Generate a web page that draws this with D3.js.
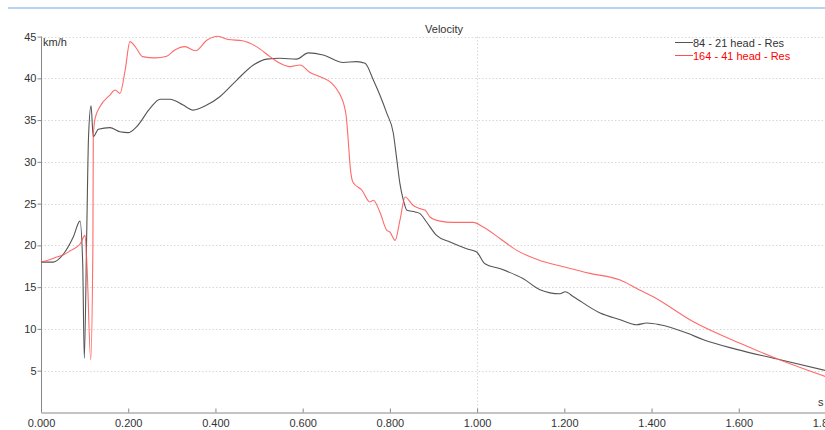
<!DOCTYPE html>
<html>
<head>
<meta charset="utf-8">
<script src="https://cdn.jsdelivr.net/npm/d3@7"></script>
<style>
  html, body { margin: 0; padding: 0; background: #fff; }
  svg { display: block; font-family: "Liberation Sans", Arial, sans-serif; }
</style>
</head>
<body>
<svg id="chart" width="825" height="430"></svg>
<script>
// Velocity traces (time in s, speed in km/h)
const seriesNames = ["84 - 21 head - Res", "164 - 41 head - Res"];
const seriesColors = ["#555555", "#ff5050"];
const legendColors = ["#333333", "#ff0000"];

const blackTime = [0.000, 0.028, 0.052, 0.074, 0.0894, 0.0956, 0.0993, 0.105, 0.109, 0.1147, 0.1199, 0.1314, 0.158, 0.181, 0.200, 0.219, 0.250, 0.273, 0.296, 0.326, 0.349, 0.380, 0.410, 0.449, 0.487, 0.518, 0.548, 0.586, 0.613, 0.647, 0.693, 0.724, 0.743, 0.762, 0.777, 0.793, 0.808, 0.816, 0.823, 0.831, 0.839, 0.858, 0.869, 0.884, 0.907, 0.938, 0.976, 0.999, 1.018, 1.053, 1.106, 1.144, 1.190, 1.202, 1.221, 1.282, 1.328, 1.366, 1.389, 1.419, 1.481, 1.519, 1.595, 1.695, 1.800];
const blackSpeed = [18.0, 18.0, 19.0, 21.0, 22.9, 17.9, 6.5, 22.0, 33.0, 36.7, 33.0, 33.9, 34.1, 33.6, 33.5, 34.2, 36.4, 37.5, 37.5, 36.8, 36.2, 36.8, 37.8, 39.8, 41.6, 42.3, 42.4, 42.3, 43.05, 42.8, 41.9, 42.0, 41.8, 39.8, 38.0, 35.8, 33.4, 30.2, 27.4, 25.4, 24.2, 24.0, 23.8, 22.8, 21.2, 20.4, 19.6, 19.2, 17.8, 17.2, 16.0, 14.7, 14.2, 14.45, 13.85, 11.9, 11.1, 10.5, 10.7, 10.5, 9.5, 8.7, 7.55, 6.3, 5.0];

const redTime = [0.000, 0.021, 0.036, 0.051, 0.067, 0.090, 0.101, 0.1055, 0.114, 0.119, 0.1199, 0.124, 0.135, 0.158, 0.170, 0.181, 0.193, 0.204, 0.216, 0.233, 0.262, 0.288, 0.307, 0.330, 0.354, 0.381, 0.406, 0.429, 0.462, 0.494, 0.525, 0.548, 0.571, 0.594, 0.617, 0.640, 0.667, 0.682, 0.688, 0.700, 0.705, 0.709, 0.715, 0.736, 0.754, 0.762, 0.777, 0.793, 0.800, 0.812, 0.823, 0.835, 0.853, 0.869, 0.881, 0.892, 0.915, 0.945, 0.991, 1.014, 1.053, 1.091, 1.144, 1.198, 1.259, 1.328, 1.366, 1.404, 1.496, 1.603, 1.695, 1.800];
const redSpeed = [18.0, 18.3, 18.6, 18.85, 19.35, 20.2, 21.2, 17.5, 6.3, 20.0, 33.0, 35.2, 36.6, 38.0, 38.6, 38.2, 41.0, 44.4, 43.8, 42.6, 42.45, 42.65, 43.4, 43.8, 43.3, 44.6, 45.05, 44.65, 44.5, 43.8, 42.6, 41.8, 41.4, 41.6, 40.7, 40.2, 39.4, 38.4, 37.8, 35.4, 32.2, 29.4, 27.6, 26.6, 25.2, 25.4, 24.0, 21.8, 21.6, 20.6, 23.0, 25.8, 24.8, 24.4, 24.2, 23.4, 22.9, 22.75, 22.75, 22.2, 20.8, 19.4, 18.2, 17.45, 16.65, 15.85, 14.85, 13.85, 10.85, 8.27, 6.27, 4.27];

const xTickValues = [0, 0.2, 0.4, 0.6, 0.8, 1.0, 1.2, 1.4, 1.6, 1.8];
const yTickValues = [5, 10, 15, 20, 25, 30, 35, 40, 45];

const svg = d3.select("#chart");
const x = d3.scaleLinear().domain([0, 1.8]).range([41, 826]);
const y = d3.scaleLinear().domain([0, 45]).range([412.4, 36.6]);

// top rule
svg.append("line")
  .attr("x1", 8).attr("x2", 825).attr("y1", 8).attr("y2", 8)
  .attr("stroke", "#b9d3f6").attr("stroke-width", 2);

// dotted grid
svg.append("g").selectAll("line").data(yTickValues).join("line")
  .attr("x1", x(0)).attr("x2", 825)
  .attr("y1", d => Math.round(y(d)) + 0.5).attr("y2", d => Math.round(y(d)) + 0.5)
  .attr("stroke", "#d8d8d8").attr("stroke-dasharray", "1.5,2");
svg.append("line")
  .attr("x1", Math.round(x(1.0)) + 0.5).attr("x2", Math.round(x(1.0)) + 0.5)
  .attr("y1", y(45)).attr("y2", y(0))
  .attr("stroke", "#d8d8d8").attr("stroke-dasharray", "1.5,2");

// axes
const xAxis = d3.axisBottom(x).tickValues(xTickValues).tickFormat(d3.format(".3f")).tickSizeInner(-4).tickSizeOuter(0).tickPadding(7);
const gx = svg.append("g").attr("transform", `translate(0,${Math.round(y(0)) + 0.5})`).call(xAxis);
const yAxis = d3.axisLeft(y).tickValues(yTickValues).tickSizeInner(4).tickSizeOuter(0).tickPadding(1);
const gy = svg.append("g").attr("transform", `translate(${Math.round(x(0)) + 0.5},0)`).call(yAxis);
[gx, gy].forEach(g => {
  g.select(".domain").attr("stroke", "#888");
  g.selectAll(".tick line").attr("stroke", "#888");
  g.selectAll("text").attr("fill", "#333").style("font-size", "11px").style("font-family", "Liberation Sans, Arial, sans-serif");
});
gy.select(".domain").attr("d", `M0,${y(45)}V${y(0)}`);

// unit labels and title
svg.append("text").attr("x", 43).attr("y", 46).text("km/h")
  .attr("fill", "#333").style("font-size", "11px");
svg.append("text").attr("x", 818).attr("y", 406).text("s")
  .attr("fill", "#333").style("font-size", "11px");
svg.append("text").attr("x", 444).attr("y", 33).attr("text-anchor", "middle").text("Velocity")
  .attr("fill", "#333").style("font-size", "11px");

// traces
const line = d3.line().x(d => x(d[0])).y(d => y(d[1])).curve(d3.curveMonotoneX);
const blackData = d3.zip(blackTime, blackSpeed);
const redData = d3.zip(redTime, redSpeed);
svg.append("path").datum(blackData).attr("d", line)
  .attr("fill", "none").attr("stroke", seriesColors[0]).attr("stroke-width", 1.1);
svg.append("path").datum(redData).attr("d", line)
  .attr("fill", "none").attr("stroke", seriesColors[1]).attr("stroke-width", 1.1).attr("stroke-opacity", 0.85);

// legend
const legend = svg.append("g");
seriesNames.forEach((name, i) => {
  const ly = 42.5 + i * 13;
  legend.append("line").attr("x1", 675).attr("x2", 693).attr("y1", ly).attr("y2", ly)
    .attr("stroke", seriesColors[i]).attr("stroke-width", 1);
  legend.append("text").attr("x", 693).attr("y", ly + 4).text(name)
    .attr("fill", legendColors[i]).style("font-size", "11px");
});
</script>
</body>
</html>
